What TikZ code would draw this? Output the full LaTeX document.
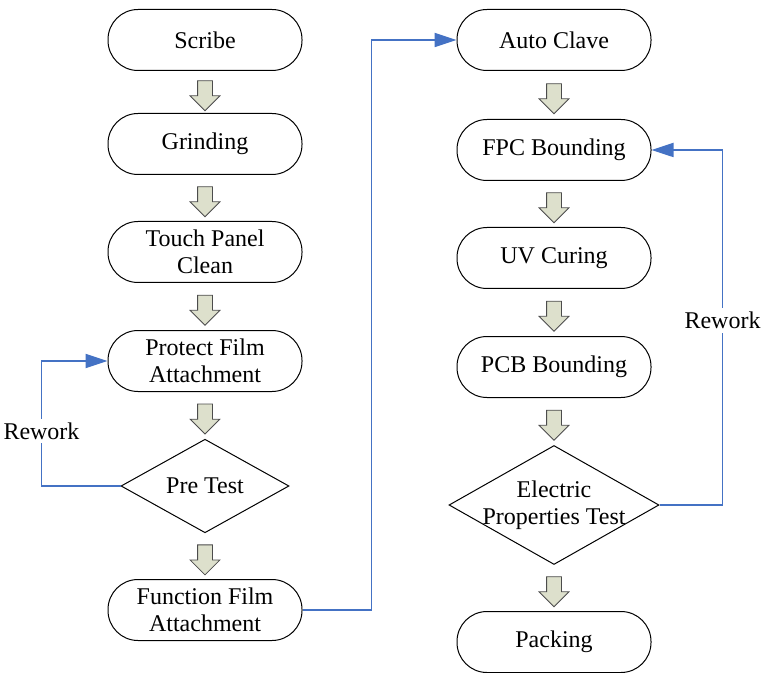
\documentclass[tikz,border=0pt]{standalone}
\usepackage{fontspec}
\setmainfont{Liberation Serif}
\usetikzlibrary{shapes.geometric,shapes.arrows,arrows.meta}
\definecolor{reworkblue}{RGB}{68,114,196}
\definecolor{arrowfill}{RGB}{221,224,204}

\begin{document}
\begin{tikzpicture}[x=0.5pt,y=-0.5pt,font=\fontsize{12}{13.5}\selectfont]
        \tikzset{proc/.style = {shape=rectangle,draw,rounded corners=15pt,line width=0.5pt,minimum width=97pt,minimum height=30.5pt,align=center,inner sep=1pt}}
        \tikzset{decision/.style = {shape=diamond,draw,line width=0.5pt,inner sep=0pt}}
        \tikzset{blockarrow/.style = {shape=single arrow,draw=black!70,fill=arrowfill,line width=0.4pt,shape border rotate=270,inner sep=3.5pt,minimum height=15pt,single arrow head extend=3.75pt}}
        \tikzset{rework/.style = {draw=reworkblue,line width=0.9pt,-{Triangle[length=11pt,width=7pt]}}}
        \tikzset{tag/.style = {fill=white,inner sep=2pt}}

        \useasboundingbox (0,0) rectangle (764,673);

        \node[proc] (S1) at (205, 40) {Scribe};
        \node[proc] (S2) at (205, 144) {Grinding};
        \node[proc] (S3) at (205, 252) {Touch Panel\\Clean};
        \node[proc] (S4) at (205, 361) {Protect Film\\Attachment};
        \node[decision,minimum width=84pt,minimum height=44pt] (S5) at (205, 486) {Pre Test};
        \node[proc] (S6) at (205, 610) {Function Film\\Attachment};

        \node[proc] (T1) at (554, 40) {Auto Clave};
        \node[proc] (T2) at (554, 150) {FPC Bounding};
        \node[proc] (T3) at (554, 258) {UV Curing};
        \node[proc] (T4) at (554, 367) {PCB Bounding};
        \node[decision,minimum width=105pt,minimum height=59.5pt] (T5) at (554, 505) {};
        \node[align=center] (T5text) at (554, 505) {Electric\\Properties Test};
        \node[proc] (T6) at (554, 642) {Packing};

        \path (S1.south) -- node[blockarrow] {} (S2.north);
        \path (S2.south) -- node[blockarrow] {} (S3.north);
        \path (S3.south) -- node[blockarrow] {} (S4.north);
        \path (S4.south) -- node[blockarrow] {} (S5.north);
        \path (S5.south) -- node[blockarrow] {} (S6.north);

        \path (T1.south) -- node[blockarrow] {} (T2.north);
        \path (T2.south) -- node[blockarrow] {} (T3.north);
        \path (T3.south) -- node[blockarrow] {} (T4.north);
        \path (T4.south) -- node[blockarrow] {} (T5.north);
        \path (T5.south) -- node[blockarrow] {} (T6.north);

        \draw[rework] (S5.west) -- ++(-79, 0) |- node[tag,pos=0.22] {Rework} (S4.west);
        \draw[rework] (S6.east) -- ++(69, 0) |- (T1.west);
        \draw[rework] (T5.east) -- ++(63, 0) |- node[tag,pos=0.26] {Rework} (T2.east);
\end{tikzpicture}
\end{document}
